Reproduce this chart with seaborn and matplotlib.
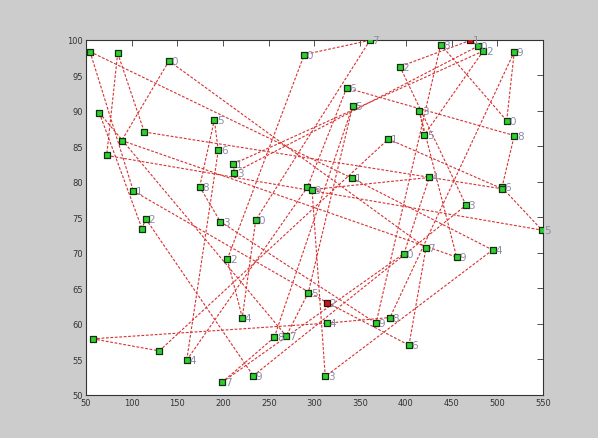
import matplotlib
matplotlib.use('Agg')
import matplotlib.pyplot as plt
import pandas as pd
import seaborn as sns

# city coordinates
city_x = [54.4, 84.7, 140.8, 64.6, 89.1, 113.8, 72.6, 101.8, 115.3, 111.3,
          174.4, 194.7, 190.4, 211.2, 212.3, 292.1, 297.3, 341.0, 196.9, 235.7,
          204.6, 425.6, 505.1, 465.8, 548.9, 397.9, 422.0, 455.5, 494.9, 470.5,
          479.2, 484.7, 438.1, 518.6, 393.5, 414.7, 420.2, 510.3, 518.6, 380.8,
          360.7, 288.8, 335.2, 341.8, 57.3, 130.2, 160.2, 293.2, 313.7, 313.3,
          367.3, 221.0, 256.0, 269.1, 199.1, 233.0, 311.8, 382.6, 403.4, 505.6]
city_y = [98.3, 98.1, 97.0, 89.7, 85.8, 87.0, 83.7, 78.7, 74.8, 73.4,
          79.3, 84.4, 88.7, 82.5, 81.3, 79.2, 78.9, 80.5, 74.4, 74.6,
          69.1, 80.6, 79.2, 76.7, 73.2, 69.9, 70.7, 69.4, 70.4, 99.9,
          99.1, 98.4, 99.3, 98.3, 96.2, 90.0, 86.6, 88.6, 86.5, 86.0,
          99.9, 97.9, 93.2, 90.7, 57.9, 56.2, 54.9, 64.4, 63.0, 60.1,
          60.1, 60.9, 58.1, 58.3, 51.8, 52.7, 52.6, 60.9, 57.0, 79.0]
city_label = ['', '', '0', '', '', '', '', '1', '2', '',
              '8', '6', '5', '1', '3', '', '9', '1', '3', '0',
              '2', '4', '6', '3', '5', '0', '7', '9', '4', '1',
              '0', '2', '8', '9', '2', '3', '5', '0', '8', '1',
              '7', '0', '6', '5', '', '', '4', '5', '2', '4',
              '9', '4', '8', '7', '7', '9', '3', '8', '6', '']
red_cities = [29, 48]

# tour legs (1-based city numbers)
leg_from = [1, 18, 1, 2, 2, 3, 3, 4, 4, 5, 6, 7, 8, 49, 59, 9, 9, 11, 11, 12, 12,
            47, 45, 45, 50, 46, 40, 23, 23, 39, 43, 19, 20, 21, 21, 41, 41, 29, 33, 34, 34,
            33, 57, 30, 30, 31, 32, 32, 36, 36, 44, 48, 53, 55, 56, 26, 22, 53, 14, 24]
leg_to = [18, 29, 8, 7, 6, 5, 27, 10, 54, 28, 60, 25, 49, 59, 27, 56, 10, 13, 19, 13, 47,
          16, 46, 50, 58, 40, 60, 25, 39, 43, 16, 51, 52, 52, 42, 42, 20, 57, 38, 38, 58,
          51, 17, 35, 31, 15, 37, 14, 37, 28, 48, 54, 55, 26, 24, 22, 17, 44, 15, 35]

rows = []
for i, (a, b) in enumerate(zip(leg_from, leg_to)):
    rows.append({'leg': i, 'x': city_x[a - 1], 'y': city_y[a - 1]})
    rows.append({'leg': i, 'x': city_x[b - 1], 'y': city_y[b - 1]})
legs = pd.DataFrame(rows)
cities = pd.DataFrame({'x': city_x, 'y': city_y, 'label': city_label})
cities['red'] = cities.index.isin(red_cities)

sns.set_style('white')
fig = plt.figure(figsize=(5.98, 4.39), dpi=100, facecolor='#cccccc')
ax = fig.add_axes([0.1438, 0.098, 0.7642, 0.8095])

sns.lineplot(data=legs, x='x', y='y', units='leg', estimator=None, sort=False,
             color='#d83030', linestyle=(0, (2.5, 1.5)), linewidth=0.8, ax=ax)
sns.scatterplot(data=cities[~cities['red']], x='x', y='y', marker='s', s=22,
                color='#2ed02e', edgecolor='#143014', linewidth=0.9, ax=ax, zorder=3)
sns.scatterplot(data=cities[cities['red']], x='x', y='y', marker='s', s=22,
                color='#c81818', edgecolor='#301010', linewidth=0.9, ax=ax, zorder=3)
for _, r in cities.iterrows():
    ax.text(r['x'] + 2.8, r['y'], r['label'], fontsize=7.5, color='#8c8ca6',
            va='center', ha='left', zorder=4)

ax.set_xlim(50, 550)
ax.set_ylim(50, 100)
ax.set_xticks(range(50, 551, 50))
ax.set_yticks(range(50, 101, 5))
ax.set_xlabel('')
ax.set_ylabel('')
ax.tick_params(direction='in', top=True, right=True, length=4, width=0.6,
               labelsize=6, colors='#333333', pad=2)
for s in ax.spines.values():
    s.set_color('#333333')
    s.set_linewidth(0.8)

fig.savefig('out.png', dpi=100, facecolor=fig.get_facecolor())
